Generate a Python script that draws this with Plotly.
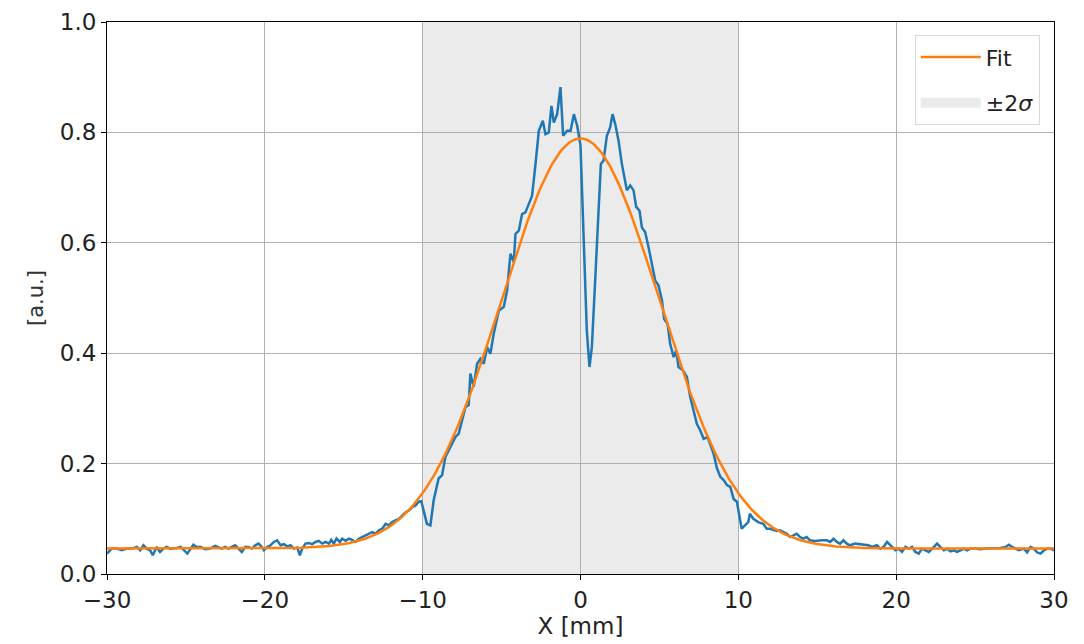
import numpy as np
import plotly.graph_objects as go

# Measured beam profile (position in mm, normalised intensity)
x_mm = [
    -30.00, -29.70, -29.38, -29.06, -28.75, -28.43, -28.11, -27.90, -27.69, -27.48,
    -27.27, -27.10, -26.85, -26.64, -26.43, -26.21, -26.00, -25.79, -25.58, -25.33,
    -25.12, -24.91, -24.70, -24.53, -24.32, -24.06, -23.79, -23.47, -23.15, -22.94,
    -22.73, -22.52, -22.30, -22.09, -21.88, -21.67, -21.46, -21.25, -21.04, -20.82,
    -20.61, -20.40, -20.19, -20.06, -19.85, -19.64, -19.43, -19.22, -19.00, -18.79,
    -18.58, -18.37, -18.16, -17.95, -17.78, -17.63, -17.42, -17.21, -17.00, -16.79,
    -16.58, -16.36, -16.15, -15.94, -15.79, -15.63, -15.46, -15.25, -15.10, -14.88,
    -14.67, -14.46, -14.25, -14.04, -13.83, -13.62, -13.41, -13.20, -12.98, -12.77,
    -12.56, -12.35, -12.14, -11.93, -11.72, -11.50, -11.29, -11.08, -10.87, -10.66,
    -10.45, -10.24, -10.09, -9.92, -9.73, -9.51, -9.30, -8.99, -8.77, -8.56,
    -8.25, -7.93, -7.72, -7.51, -7.29, -7.08, -6.98, -6.77, -6.55, -6.34,
    -6.13, -5.92, -5.71, -5.50, -5.18, -4.86, -4.65, -4.44, -4.23, -4.12,
    -3.91, -3.70, -3.49, -3.28, -3.07, -2.85, -2.64, -2.39, -2.22, -2.01,
    -1.84, -1.69, -1.48, -1.27, -1.10, -0.85, -0.63, -0.42, -0.21, 0.00,
    0.19, 0.40, 0.57, 0.72, 0.93, 1.14, 1.29, 1.46, 1.67, 1.88,
    2.03, 2.20, 2.41, 2.62, 2.83, 2.94, 3.15, 3.36, 3.53, 3.74,
    3.89, 4.10, 4.31, 4.52, 4.73, 4.94, 5.16, 5.30, 5.52, 5.68,
    5.90, 6.06, 6.21, 6.49, 6.74, 6.95, 7.16, 7.37, 7.59, 7.80,
    8.05, 8.22, 8.43, 8.65, 8.86, 9.07, 9.28, 9.49, 9.70, 9.91,
    10.00, 10.21, 10.42, 10.63, 10.73, 10.95, 11.26, 11.58, 11.80, 12.00,
    12.22, 12.43, 12.64, 12.85, 13.07, 13.28, 13.49, 13.70, 13.91, 14.12,
    14.33, 14.54, 14.86, 15.08, 15.29, 15.60, 15.82, 16.03, 16.24, 16.45,
    16.66, 16.87, 17.08, 17.40, 17.72, 17.93, 18.25, 18.46, 18.78, 18.99,
    19.20, 19.42, 19.63, 19.74, 19.95, 20.16, 20.37, 20.59, 20.80, 21.01,
    21.22, 21.43, 21.64, 21.85, 22.07, 22.28, 22.59, 22.80, 23.02, 23.23,
    23.44, 23.65, 23.86, 24.07, 24.28, 24.49, 24.71, 25.02, 25.34, 25.66,
    25.97, 26.29, 26.61, 26.93, 27.14, 27.35, 27.56, 27.77, 28.09, 28.30,
    28.51, 28.72, 28.94, 29.15, 29.36, 29.57, 29.78, 30.00,
]
intensity = [
    0.037, 0.046, 0.046, 0.043, 0.046, 0.046, 0.049, 0.043, 0.052, 0.046,
    0.043, 0.034, 0.049, 0.040, 0.046, 0.049, 0.046, 0.046, 0.047, 0.049,
    0.043, 0.037, 0.046, 0.053, 0.049, 0.049, 0.045, 0.046, 0.051, 0.049,
    0.046, 0.049, 0.046, 0.049, 0.052, 0.046, 0.040, 0.049, 0.049, 0.046,
    0.052, 0.055, 0.049, 0.043, 0.049, 0.052, 0.058, 0.061, 0.052, 0.054,
    0.050, 0.052, 0.046, 0.048, 0.034, 0.046, 0.055, 0.056, 0.054, 0.058,
    0.060, 0.055, 0.058, 0.055, 0.062, 0.055, 0.064, 0.058, 0.064, 0.060,
    0.064, 0.062, 0.058, 0.064, 0.067, 0.070, 0.073, 0.076, 0.073, 0.079,
    0.082, 0.091, 0.088, 0.094, 0.097, 0.100, 0.106, 0.112, 0.115, 0.121,
    0.124, 0.131, 0.132, 0.112, 0.091, 0.088, 0.134, 0.173, 0.179, 0.212,
    0.230, 0.248, 0.254, 0.278, 0.302, 0.306, 0.363, 0.339, 0.381, 0.390,
    0.381, 0.411, 0.399, 0.435, 0.477, 0.484, 0.514, 0.580, 0.565, 0.616,
    0.622, 0.652, 0.655, 0.670, 0.685, 0.743, 0.803, 0.821, 0.797, 0.800,
    0.848, 0.818, 0.833, 0.882, 0.794, 0.803, 0.803, 0.833, 0.812, 0.776,
    0.622, 0.441, 0.375, 0.411, 0.532, 0.652, 0.743, 0.749, 0.794, 0.809,
    0.833, 0.815, 0.785, 0.743, 0.707, 0.695, 0.704, 0.695, 0.665, 0.658,
    0.628, 0.619, 0.592, 0.562, 0.532, 0.523, 0.496, 0.462, 0.453, 0.417,
    0.393, 0.405, 0.375, 0.369, 0.357, 0.321, 0.297, 0.272, 0.260, 0.245,
    0.248, 0.236, 0.218, 0.191, 0.176, 0.170, 0.161, 0.158, 0.136, 0.131,
    0.118, 0.082, 0.088, 0.094, 0.109, 0.100, 0.094, 0.091, 0.082, 0.082,
    0.080, 0.078, 0.079, 0.076, 0.073, 0.067, 0.070, 0.073, 0.067, 0.064,
    0.067, 0.061, 0.060, 0.061, 0.061, 0.061, 0.058, 0.064, 0.058, 0.055,
    0.061, 0.055, 0.052, 0.055, 0.054, 0.052, 0.052, 0.049, 0.052, 0.046,
    0.049, 0.058, 0.052, 0.049, 0.043, 0.046, 0.040, 0.049, 0.046, 0.049,
    0.040, 0.037, 0.046, 0.043, 0.040, 0.046, 0.055, 0.049, 0.043, 0.046,
    0.041, 0.043, 0.040, 0.043, 0.046, 0.043, 0.046, 0.046, 0.045, 0.046,
    0.046, 0.046, 0.047, 0.049, 0.053, 0.049, 0.046, 0.043, 0.046, 0.039,
    0.049, 0.046, 0.039, 0.037, 0.043, 0.046, 0.046, 0.043,
]

# Gaussian fit parameters: offset + amp * exp(-(x - mu)^2 / (2 sigma^2))
fit_offset = 0.046
fit_amp = 0.743
fit_mu = 0.0
fit_sigma = 5.0

x_fit = np.linspace(-30, 30, 601)
y_fit = fit_offset + fit_amp * np.exp(-((x_fit - fit_mu) ** 2) / (2 * fit_sigma ** 2))

font_family = "DejaVu Sans, sans-serif"
tick_size = 23
band_color = "#ebebeb"

fig = go.Figure()

fig.add_trace(go.Scatter(
    x=x_mm, y=intensity, mode="lines",
    line=dict(color="#1f77b4", width=2.5),
    showlegend=False,
))
fig.add_trace(go.Scatter(
    x=x_fit, y=y_fit, mode="lines", name="Fit", legendgroup="fit",
    line=dict(color="#ff7f0e", width=2.5),
))
# legend swatch for the shaded band
fig.add_trace(go.Scatter(
    x=[None], y=[None], mode="lines", name="±2<i>σ</i>", legendgroup="band",
    line=dict(color=band_color, width=17),
))

# ±2σ band around the fitted centre
fig.add_vrect(
    x0=fit_mu - 2 * fit_sigma, x1=fit_mu + 2 * fit_sigma,
    fillcolor=band_color, opacity=1, line_width=0, layer="below",
)

axis_common = dict(
    showline=True, linecolor="black", linewidth=1, mirror=True,
    ticks="outside", ticklen=5, tickwidth=1, tickcolor="black",
    showgrid=True, gridcolor="#b0b0b0", gridwidth=1,
    zeroline=False, automargin=False,
    tickfont=dict(family=font_family, size=tick_size, color="#222222"),
)

fig.update_xaxes(
    range=[-30, 30], tickvals=[-30, -20, -10, 0, 10, 20, 30],
    title=dict(text="X [mm]", font=dict(family=font_family, size=tick_size, color="#222222"), standoff=2),
    **axis_common,
)
fig.update_yaxes(
    range=[0, 1], tickvals=[0, 0.2, 0.4, 0.6, 0.8, 1.0], tickformat=".1f",
    title=dict(text="[a.u.]", font=dict(family=font_family, size=21, color="#333333"), standoff=10),
    **axis_common,
)

fig.update_layout(
    width=1084, height=644,
    margin=dict(l=107, r=30, t=22, b=70),
    paper_bgcolor="white", plot_bgcolor="white",
    font=dict(family=font_family, size=tick_size, color="#222222"),
    legend=dict(
        x=0.985, y=0.976, xanchor="right", yanchor="top",
        bgcolor="rgba(255,255,255,0.85)", bordercolor="#d8d8d8", borderwidth=1,
        font=dict(family=font_family, size=22, color="#222222"),
        itemwidth=60, tracegroupgap=14,
    ),
)

fig.write_html("out.html")
